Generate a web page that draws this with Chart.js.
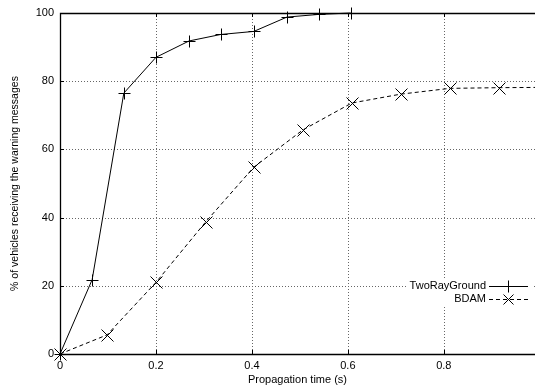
<!DOCTYPE html>
<html>
<head>
<meta charset="utf-8">
<script src="https://cdn.jsdelivr.net/npm/chart.js@4/dist/chart.umd.min.js"></script>
<style>
html,body{margin:0;padding:0;background:#fff;overflow:hidden;}
#wrap{width:535px;height:390px;position:relative;}
</style>
</head>
<body>
<div id="wrap"><canvas id="c" width="535" height="390"></canvas></div>
<script>
const seriesNames = ["TwoRayGround", "BDAM"];
const twoRayX = [0, 0.067, 0.133, 0.2, 0.269, 0.335, 0.404, 0.473, 0.54, 0.606];
const twoRayY = [0, 21.8, 76.5, 87, 91.8, 93.7, 94.6, 98.8, 99.6, 100];
const bdamX = [0, 0.098, 0.2, 0.304, 0.404, 0.506, 0.608, 0.71, 0.8125, 0.915, 1.02];
const bdamY = [0, 5.6, 21, 38.8, 54.8, 65.7, 73.6, 76.2, 77.9, 78.1, 78.2];
const xTicks = [0, 0.2, 0.4, 0.6, 0.8];
const yTicks = [0, 20, 40, 60, 80, 100];
const xTitle = "Propagation time (s)";
const yTitle = "% of vehicles receiving the warning messages";

const FONT = "Liberation Sans, Arial, Helvetica, sans-serif";

function pts(xs, ys){ return xs.map((x,i)=>({x:x, y:ys[i]})); }

const drawMarker = (ctx, style, x, y, r) => {
  ctx.beginPath();
  if (style === 'cross') {
    ctx.moveTo(x - r, y); ctx.lineTo(x + r, y);
    ctx.moveTo(x, y - r); ctx.lineTo(x, y + r);
  } else {
    ctx.moveTo(x - r, y - r); ctx.lineTo(x + r, y + r);
    ctx.moveTo(x - r, y + r); ctx.lineTo(x + r, y - r);
  }
  ctx.stroke();
};

const gridPlugin = {
  id: 'dotgrid',
  beforeDatasetsDraw(chart) {
    const {ctx, chartArea: a, scales} = chart;
    ctx.save();
    ctx.strokeStyle = '#666';
    ctx.lineWidth = 1;
    ctx.setLineDash([1, 2]);
    ctx.beginPath();
    xTicks.forEach(v => {
      if (v === 0) return;
      const px = Math.round(scales.x.getPixelForValue(v)) + 0.5;
      ctx.moveTo(px, a.top); ctx.lineTo(px, a.bottom);
    });
    yTicks.forEach(v => {
      if (v === 0 || v === 100) return;
      const py = Math.round(scales.y.getPixelForValue(v)) + 0.5;
      ctx.moveTo(a.left, py); ctx.lineTo(a.right + 5, py);
    });
    ctx.stroke();
    ctx.restore();
  }
};

const framePlugin = {
  id: 'frame',
  afterDatasetsDraw(chart) {
    const {ctx, chartArea: a, scales} = chart;
    ctx.save();
    ctx.strokeStyle = '#000';
    ctx.lineWidth = 1;
    ctx.beginPath();
    xTicks.forEach(v => {
      const px = Math.round(scales.x.getPixelForValue(v)) + 0.5;
      ctx.moveTo(px, a.bottom); ctx.lineTo(px, a.bottom - 4);
      ctx.moveTo(px, a.top); ctx.lineTo(px, a.top + 4);
    });
    yTicks.forEach(v => {
      const py = Math.round(scales.y.getPixelForValue(v)) + 0.5;
      ctx.moveTo(a.left, py); ctx.lineTo(a.left + 4, py);
    });
    ctx.stroke();
    ctx.lineWidth = 1.3;
    ctx.beginPath();
    ctx.moveTo(a.right + 5, Math.round(a.top) + 0.5);
    ctx.lineTo(Math.round(a.left) + 0.5, Math.round(a.top) + 0.5);
    ctx.lineTo(Math.round(a.left) + 0.5, Math.round(a.bottom) + 0.5);
    ctx.lineTo(a.right + 5, Math.round(a.bottom) + 0.5);
    ctx.stroke();
    // legend
    ctx.font = "11px " + FONT;
    ctx.textAlign = 'right';
    ctx.textBaseline = 'middle';
    const ys = [286, 299];
    ctx.fillStyle = '#fff';
    ctx.fillRect(408, 279, 124, 27);
    chart.data.datasets.forEach((ds, i) => {
      const y = ys[i];
      ctx.fillStyle = '#000';
      ctx.fillText(ds.label, 486, y);
      ctx.lineWidth = 1;
      ctx.setLineDash(ds.borderDash || []);
      ctx.beginPath();
      ctx.moveTo(489, y + 0.5); ctx.lineTo(528, y + 0.5);
      ctx.stroke();
      ctx.setLineDash([]);
      drawMarker(ctx, ds.pointStyle === 'cross' ? 'cross' : 'x', 508.5, y + 0.5, ds.pointStyle === 'cross' ? 6 : 5);
    });
    ctx.restore();
  }
};

const markerPlugin = {
  id: 'markers',
  afterDatasetsDraw(chart) {
    const ctx = chart.ctx;
    ctx.save();
    ctx.beginPath();
    ctx.rect(0, 0, chart.chartArea.right, chart.height);
    ctx.clip();
    ctx.strokeStyle = '#000';
    ctx.lineWidth = 1;
    chart.data.datasets.forEach((ds, i) => {
      const meta = chart.getDatasetMeta(i);
      meta.data.forEach(el => {
        drawMarker(ctx, ds.pointStyle === 'cross' ? 'cross' : 'x', Math.round(el.x) + 0.5, Math.round(el.y) + 0.5, 6);
      });
    });
    ctx.restore();
  }
};

new Chart(document.getElementById('c'), {
  type: 'scatter',
  data: {
    datasets: [
      {
        label: seriesNames[0],
        data: pts(twoRayX, twoRayY),
        showLine: true,
        borderColor: '#000',
        borderWidth: 1,
        pointStyle: 'cross',
        pointRadius: 0,
        tension: 0,
        clip: false
      },
      {
        label: seriesNames[1],
        data: pts(bdamX, bdamY),
        showLine: true,
        borderColor: '#000',
        borderWidth: 1,
        borderDash: [4, 3],
        pointStyle: 'crossRot',
        pointRadius: 0,
        tension: 0
      }
    ]
  },
  options: {
    responsive: false,
    animation: false,
    devicePixelRatio: 1,
    layout: { padding: { top: 13, right: 0, bottom: 0, left: 0 } },
    plugins: { legend: { display: false }, tooltip: { enabled: false } },
    scales: {
      x: {
        type: 'linear',
        min: 0,
        max: 0.99,
        afterBuildTicks(s) { s.ticks = xTicks.map(v => ({ value: v })); },
        afterFit(s) { s.height = 36; },
        grid: { display: false, drawTicks: false },
        border: { display: false },
        ticks: {
          color: '#000',
          font: { family: FONT, size: 11 },
          padding: 5,
          maxRotation: 0,
          callback: v => (v === 0 ? '0' : String(v))
        },
        title: {
          display: true,
          text: xTitle,
          color: '#000',
          font: { family: FONT, size: 11 },
          padding: { top: 0, bottom: 3 }
        }
      },
      y: {
        type: 'linear',
        min: 0,
        max: 100,
        afterBuildTicks(s) { s.ticks = yTicks.map(v => ({ value: v })); },
        afterFit(s) { s.width = 60; },
        grid: { display: false, drawTicks: false },
        border: { display: false },
        ticks: {
          color: '#000',
          font: { family: FONT, size: 11 },
          padding: 6
        },
        title: {
          display: true,
          text: yTitle,
          color: '#000',
          font: { family: FONT, size: 10.5 },
          padding: { top: 9, bottom: 0 }
        }
      }
    }
  },
  plugins: [gridPlugin, markerPlugin, framePlugin]
});
</script>
</body>
</html>
